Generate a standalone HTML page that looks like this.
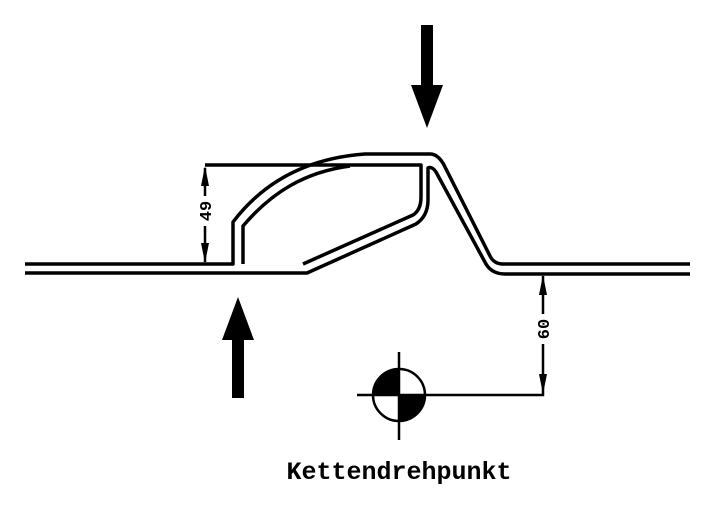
<!DOCTYPE html>
<html><head><style>body{margin:0;background:#fff}svg{display:block}</style></head><body>
<svg width="709" height="510" viewBox="0 0 709 510" xmlns="http://www.w3.org/2000/svg">
<g fill="none" stroke="#000" stroke-width="3.5" stroke-linejoin="round">
<path d="M25,264 H233 V222 C265,180 310,158 365,154 H430 Q438,154 444,165 L490,256 Q494,264 503,264 H690"/>
<path d="M243,264 V226 C272,192 305,172 350,166"/>
<path d="M205,165 H421 V197 Q421,210 413,215 L303,264"/>
<path d="M25,273 H307 L416,224 Q428,216 428,200 V168 Q432,166 436,172 L486,264 Q492,274 505,274 H690"/>
</g>
<g stroke="#000" stroke-width="2.5" fill="none">
<path d="M205,168 V262"/>
<path d="M543,276 V395 H357"/>
<path d="M399,352 V440"/>
</g>
<rect x="195" y="196" width="20" height="30" fill="#fff"/>
<rect x="533" y="314" width="20" height="30" fill="#fff"/>
<g fill="#000">
<path d="M205,166 L201,186 H209 Z"/>
<path d="M205,263 L201,243 H209 Z"/>
<path d="M543,275 L539,295 H547 Z"/>
<path d="M543,394 L539,374 H547 Z"/>
<rect x="421" y="25" width="12" height="62"/>
<path d="M411,85 H443 L427,128 Z"/>
<rect x="232" y="338" width="12" height="60"/>
<path d="M222,340 H254 L238,297 Z"/>
<path d="M399,369 A26,26 0 0 0 373,395 H399 Z"/>
<path d="M399,421 A26,26 0 0 0 425,395 H399 Z"/>
</g>
<circle cx="399" cy="395" r="26" fill="none" stroke="#000" stroke-width="2.5"/>
<g font-family="Liberation Mono, monospace" font-weight="bold" font-size="17" fill="#000">
<text transform="translate(211,211) rotate(-90)" text-anchor="middle">49</text>
<text transform="translate(549,329) rotate(-90)" text-anchor="middle">60</text>
</g>
<text x="399" y="479" text-anchor="middle" font-family="Liberation Mono, monospace" font-weight="bold" font-size="25" fill="#000">Kettendrehpunkt</text>
</svg>
</body></html>
